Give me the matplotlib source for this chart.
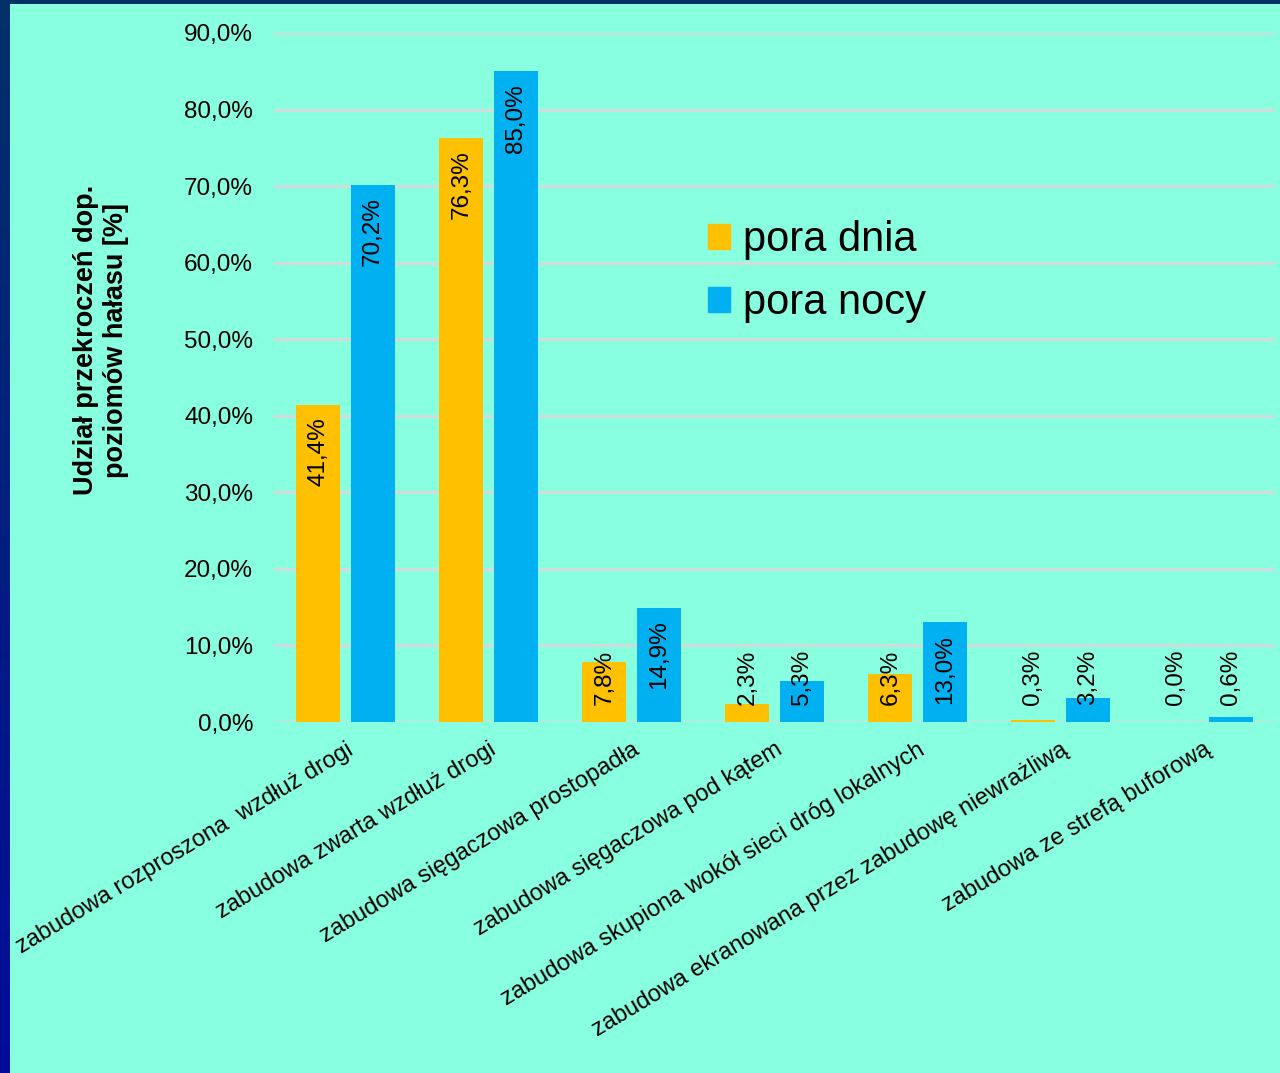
import numpy as np
import matplotlib
matplotlib.use("Agg")
import matplotlib.pyplot as plt
from matplotlib.patches import Patch
from matplotlib.colors import LinearSegmentedColormap

plt.rcParams['font.family'] = ['Liberation Sans', 'DejaVu Sans']

categories = [
    "zabudowa rozproszona  wzdłuż drogi",
    "zabudowa zwarta wzdłuż drogi",
    "zabudowa sięgaczowa prostopadła",
    "zabudowa sięgaczowa pod kątem",
    "zabudowa skupiona wokół sieci dróg lokalnych",
    "zabudowa ekranowana przez zabudowę niewrażliwą",
    "zabudowa ze strefą buforową",
]
pora_dnia = [41.4, 76.3, 7.8, 2.3, 6.3, 0.3, 0.0]
pora_nocy = [70.2, 85.0, 14.9, 5.3, 13.0, 3.2, 0.6]
yticks = [0, 10, 20, 30, 40, 50, 60, 70, 80, 90]

bg = '#88FFDE'
c_day = '#FFC000'
c_night = '#00B0F0'

fig = plt.figure(figsize=(12.8, 10.73), dpi=100)
fig.patch.set_facecolor(bg)

# dark frame on the left and top edge
frame = fig.add_axes([0, 0, 10 / 1280, 1])
grad = np.linspace(0, 1, 256).reshape(-1, 1)
cm = LinearSegmentedColormap.from_list('edge', ['#000C99', '#003268'])
frame.imshow(grad, aspect='auto', cmap=cm, origin='lower')
frame.axis('off')
top = fig.add_axes([0, 1 - 4 / 1073, 1, 4 / 1073])
top.set_facecolor('#003268')
top.set_xticks([]); top.set_yticks([])
for s in top.spines.values():
    s.set_visible(False)

ax = fig.add_axes([274 / 1280, 351 / 1073, 1001 / 1280, 689 / 1073])
ax.set_facecolor(bg)
x = np.arange(len(categories))
w = 0.31
off = 0.19
ax.bar(x - off, pora_dnia, w, color=c_day, zorder=3)
ax.bar(x + off, pora_nocy, w, color=c_night, zorder=3)

ax.set_xlim(-0.5, len(categories) - 0.5)
ax.set_ylim(0, 90)
ax.set_yticks(yticks)
ax.set_yticklabels([f"{v:.1f}%".replace('.', ',') for v in yticks], fontsize=17.5)
ax.yaxis.grid(True, color='#D9D9D9', linewidth=2, zorder=0)
ax.tick_params(axis='both', length=0)
ax.tick_params(axis='y', pad=15)
for s in ax.spines.values():
    s.set_visible(False)

ax.set_xticks(x)
ax.set_xticklabels(categories, rotation=31, ha='right', va='top',
                   rotation_mode='anchor', fontsize=17)
ax.tick_params(axis='x', pad=12)

# value labels, vertical, inside the bar top or lifted off the axis
for xs, vals in ((x - off, pora_dnia), (x + off, pora_nocy)):
    for xi, v in zip(xs, vals):
        txt = f"{v:.1f}%".replace('.', ',')
        if v >= 12:
            ax.annotate(txt, (xi, v), xytext=(0, -9), textcoords='offset points',
                        rotation=90, ha='center', va='top', fontsize=17.5, zorder=4)
        else:
            ax.annotate(txt, (xi, 0), xytext=(0, 12), textcoords='offset points',
                        rotation=90, ha='center', va='bottom', fontsize=17.5, zorder=4)

handles = [Patch(color=c_day, label='pora dnia'), Patch(color=c_night, label='pora nocy')]
fig.legend(handles=handles, loc='upper left', bbox_to_anchor=(670 / 1280, 1 - 183 / 1073),
           frameon=False, fontsize=30, handlelength=0.55, handleheight=0.55,
           handletextpad=0.3, labelspacing=0.55)

fig.text(101 / 1280, 1 - 340 / 1073, "Udział przekroczeń dop.\npoziomów hałasu [%]",
         rotation=90, ha='center', va='center', multialignment='center',
         fontsize=19.5, fontweight='bold')

fig.savefig('out.png', dpi=100, facecolor=bg)
